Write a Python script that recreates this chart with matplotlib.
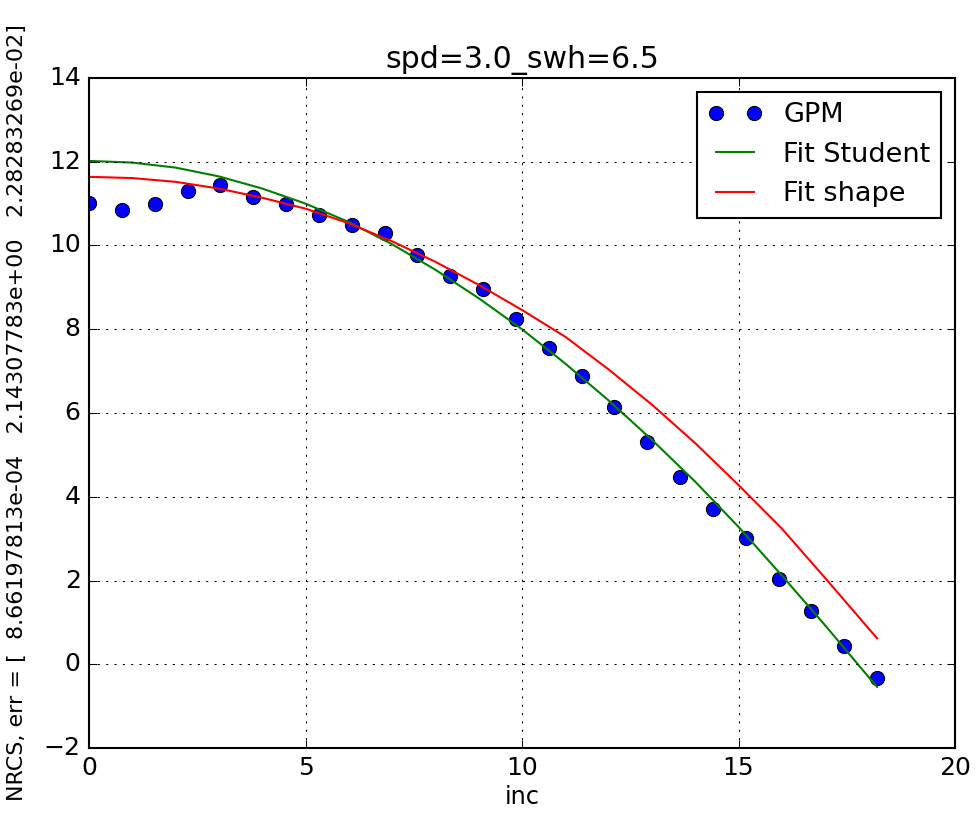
import matplotlib
matplotlib.use('Agg')
import matplotlib.pyplot as plt

plt.style.use('classic')

# GPM points
inc = [0.0, 0.76, 1.52, 2.28, 3.03, 3.79, 4.55, 5.31, 6.07, 6.83, 7.58, 8.34, 9.10,
       9.86, 10.62, 11.38, 12.13, 12.89, 13.65, 14.41, 15.17, 15.93, 16.68, 17.44, 18.2]
nrcs = [11.01, 10.84, 11.00, 11.31, 11.44, 11.17, 10.98, 10.74, 10.48, 10.30, 9.77, 9.27, 8.95,
        8.24, 7.55, 6.88, 6.14, 5.30, 4.46, 3.71, 3.01, 2.03, 1.28, 0.44, -0.32]

# fitted curves
inc_fit = [0, 1, 2, 3, 4, 5, 6, 7, 8, 9, 10, 11, 12, 13, 14, 15, 16, 17, 18, 18.2]
fit_student = [12.02, 11.98, 11.86, 11.65, 11.36, 11.00, 10.56, 10.03, 9.42, 8.74,
               8.00, 7.18, 6.30, 5.36, 4.36, 3.28, 2.12, 0.93, -0.30, -0.54]
fit_shape = [11.64, 11.61, 11.52, 11.36, 11.14, 10.88, 10.53, 10.10, 9.61, 9.06,
             8.46, 7.82, 7.04, 6.20, 5.28, 4.28, 3.24, 2.06, 0.86, 0.62]

err = '[  8.66197813e-04   2.14307783e+00   2.28283269e-02]'

fig = plt.figure(figsize=(976 / 150, 821 / 150), facecolor='white')
ax = fig.add_axes([0.0912, 0.0889, 0.8873, 0.8161])

ax.plot(inc, nrcs, 'bo', markersize=6.8, label='GPM')
ax.plot(inc_fit, fit_student, 'g-', label='Fit Student')
ax.plot(inc_fit, fit_shape, 'r-', label='Fit shape')

ax.set_xlim(0, 20)
ax.set_ylim(-2, 14)
ax.grid(True)
ax.set_title('spd=3.0_swh=6.5')
ax.set_xlabel('inc', fontsize=11.5, labelpad=2)
ax.set_ylabel('NRCS, err = ' + err, fontsize=10.7, labelpad=8)
ax.legend(loc='upper right', numpoints=2, prop={'size': 13})

fig.savefig('out.png', dpi=150, facecolor='white')
